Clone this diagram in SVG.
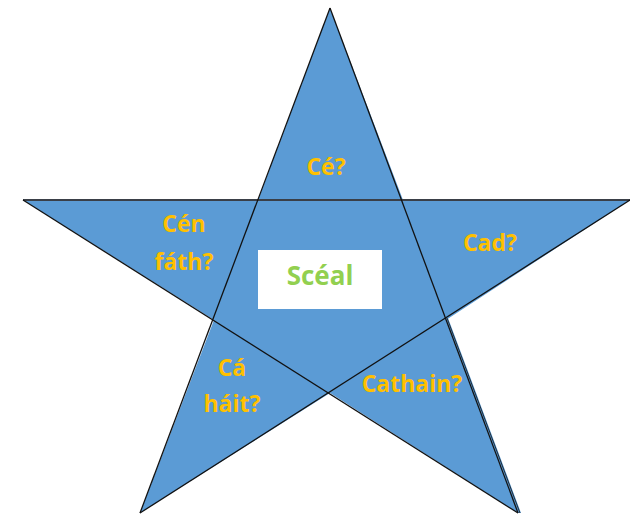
<svg xmlns="http://www.w3.org/2000/svg" width="630" height="514" viewBox="0 0 630 514">
<style>
.lbl{font-family:"Open Sans","Liberation Sans",sans-serif;font-weight:bold;font-size:23px;fill:#FFC000;text-anchor:middle}
.ln{stroke:#111;stroke-width:1.3;fill:none}
</style>
<rect width="630" height="514" fill="#fff"/>
<g id="star">
<polygon points="330,8 403,200 630,200 446,320 518,513 330,393 140,513 214,320 23,200 258,200" fill="#5B9BD5"/>
<polygon points="446,320 448,318 521,513 518,513" fill="#5B9BD5"/>
</g>
<g id="connectors">
<line class="ln" x1="23" y1="200" x2="630" y2="200" stroke="#333" style="stroke:#3a3f47;stroke-width:2"/>
<line class="ln" x1="330" y1="8" x2="140" y2="513"/>
<line class="ln" x1="330" y1="8" x2="518" y2="513"/>
<line class="ln" x1="23" y1="200" x2="518" y2="513"/>
<line class="ln" x1="630" y1="200" x2="140" y2="513"/>
<line class="ln" x1="447" y1="318" x2="520" y2="513" style="stroke-width:0.8"/>
</g>
<g id="center">
<rect x="258" y="250" width="124" height="59" fill="#fff"/>
<text x="320" y="285" class="lbl" style="fill:#92D050;font-size:26px">Scéal</text>
</g>
<g id="top"><text class="lbl" x="326" y="175">Cé?</text></g>
<g id="left"><text class="lbl" x="184" y="232">Cén</text><text class="lbl" x="184" y="270">fáth?</text></g>
<g id="right"><text class="lbl" x="490" y="251">Cad?</text></g>
<g id="bottomleft"><text class="lbl" x="232" y="376">Cá</text><text class="lbl" x="232" y="412">háit?</text></g>
<g id="bottomright"><text class="lbl" x="412" y="392">Cathain?</text></g>
</svg>
